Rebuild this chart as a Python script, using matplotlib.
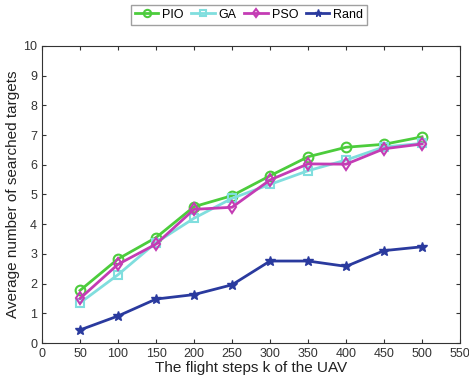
import matplotlib
matplotlib.use('Agg')
import matplotlib.pyplot as plt

plt.rcParams['font.family'] = ['Liberation Sans', 'DejaVu Sans']

steps = [50, 100, 150, 200, 250, 300, 350, 400, 450, 500]
pio = [1.77, 2.83, 3.55, 4.59, 4.96, 5.63, 6.27, 6.59, 6.69, 6.94]
ga = [1.35, 2.30, 3.38, 4.20, 4.87, 5.34, 5.80, 6.16, 6.60, 6.72]
pso = [1.50, 2.65, 3.33, 4.50, 4.57, 5.49, 6.03, 6.02, 6.54, 6.70]
rand = [0.44, 0.91, 1.48, 1.63, 1.96, 2.76, 2.76, 2.58, 3.11, 3.24]

fig = plt.figure(figsize=(4.69, 3.83), dpi=100)
ax = fig.add_axes([0.0896, 0.1044, 0.8914, 0.7756])

ax.plot(steps, pio, color='#4ccc3c', marker='o', mfc='none', ms=7, mew=1.5, lw=2, label='PIO')
ax.plot(steps, ga, color='#80dede', marker='s', mfc='none', ms=6, mew=1.5, lw=2, label='GA')
ax.plot(steps, pso, color='#c43cb4', marker='d', mfc='none', ms=6, mew=1.5, lw=2, label='PSO')
ax.plot(steps, rand, color='#2a3a9e', marker='*', ms=7, lw=2, label='Rand')

ax.set_xlim(0, 550)
ax.set_ylim(0, 10)
ax.set_xticks(range(0, 551, 50))
ax.set_yticks(range(0, 11))
ax.tick_params(direction='in', top=True, right=True, labelsize=9, colors='#333333', length=3)
for s in ax.spines.values():
    s.set_color('#333333')
    s.set_linewidth(0.8)
ax.set_xlabel('The flight steps k of the UAV', fontsize=11, color='#222222', labelpad=1)
ax.set_ylabel('Average number of searched targets', fontsize=11, color='#222222', labelpad=2)

leg = ax.legend(loc='center', bbox_to_anchor=(0.495, 1.105), ncol=4, fontsize=9,
                frameon=True, fancybox=False, edgecolor='#888888', handlelength=1.9,
                columnspacing=0.6, handletextpad=0.3, borderpad=0.3, markerscale=0.75)

fig.savefig('out.png', dpi=100)
